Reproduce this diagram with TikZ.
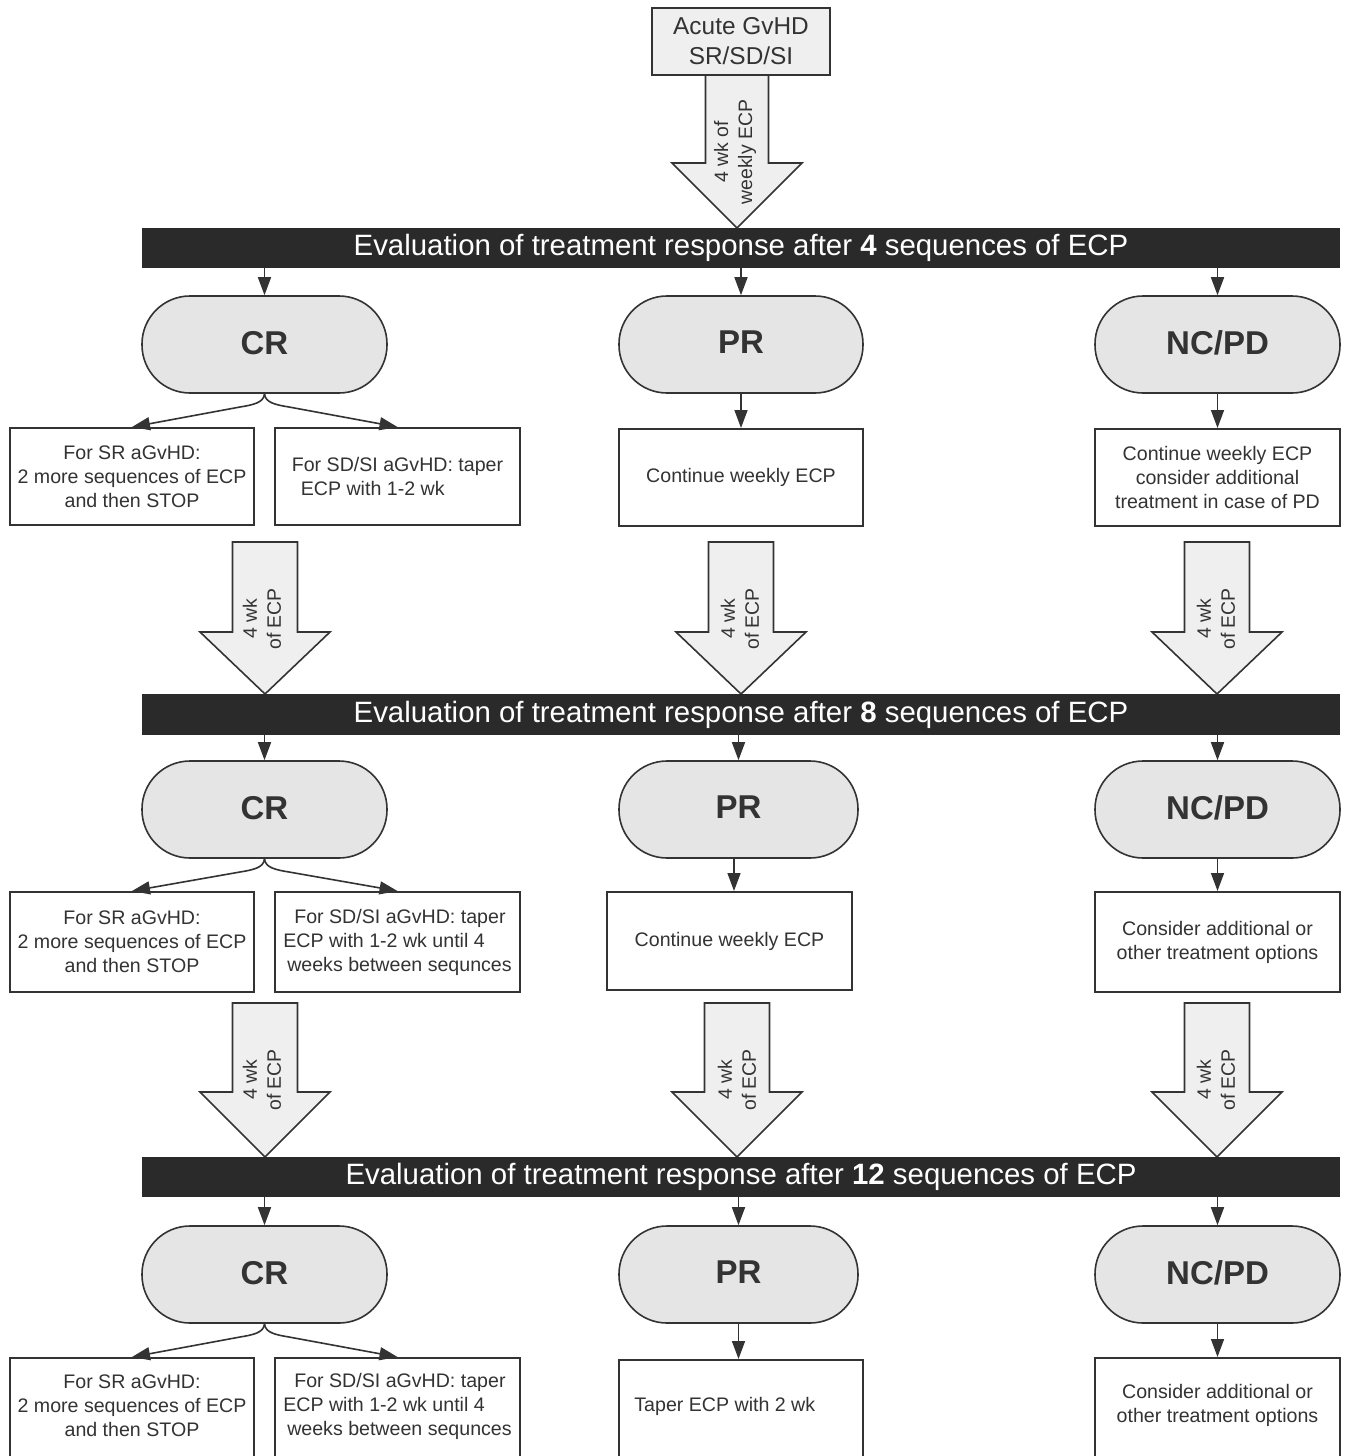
\documentclass[tikz,border=0pt]{standalone}
\usepackage{fontspec}
\setmainfont{Liberation Sans}
\usetikzlibrary{arrows.meta}
\definecolor{ink}{HTML}{333333}
\definecolor{barfill}{HTML}{2A2A2A}
\definecolor{pillfill}{HTML}{E5E5E5}
\definecolor{arrfill}{HTML}{EFEFEF}
\newcommand{\blkarrow}[5]{% x, top, neck, tip, half shaft
  \draw[blk] (#1-#5,#2) -- (#1+#5,#2) -- (#1+#5,#3) -- (#1+65,#3) -- (#1,#4) -- (#1-65,#3) -- (#1-#5,#3) -- cycle;}
\newcommand{\branch}[4]{% cr, left box, right box, y of cr bottom
  \draw[sarrow] (#1.south) .. controls (264,#4+10) and (252,#4+12) .. (240,#4+14) -- (#2.north);
  \draw[sarrow] (#1.south) .. controls (265,#4+10) and (277,#4+12) .. (289,#4+14) -- (#3.north);}
\newcommand{\pilltext}[1]{\raisebox{2pt}{#1}}
\begin{document}
\begin{tikzpicture}[x=0.5pt,y=-0.5pt,
  box/.style={draw=ink, line width=1pt, fill=white, minimum width=122pt, minimum height=48.5pt, inner sep=0pt, text=ink, font=\fontsize{9.8}{12}\selectfont, align=center},
  txt/.style={inner sep=0pt, text=ink, font=\fontsize{9.8}{12}\selectfont, align=center},
  pill/.style={draw=ink, line width=0.8pt, fill=pillfill, rounded corners=24pt, minimum width=122.5pt, minimum height=48.5pt, inner sep=0pt, text=ink, font=\fontsize{16.5}{19}\selectfont\bfseries},
  bar/.style={fill=barfill, minimum width=599pt, minimum height=20pt, inner sep=0pt, text=white, font=\fontsize{14.7}{17}\selectfont},
  sarrow/.style={draw=ink, line width=0.8pt, -{Triangle[length=9pt,width=6.5pt]}},
  blk/.style={draw=ink, line width=0.8pt, fill=arrfill, line join=miter},
  atext/.style={rotate=90, align=center, text=ink, font=\fontsize{9.7}{12}\selectfont, inner sep=0pt}
]
\useasboundingbox (0,0) rectangle (1344,1456);
\clip (0,0) rectangle (1344,1456);

% top
\node[box, minimum width=89pt, minimum height=33.5pt, fill=arrfill, font=\fontsize{12.2}{15}\selectfont] (top) at (741,41.5) {Acute GvHD\\SR/SD/SI};

% block arrows
\blkarrow{737}{75}{163}{228}{31.5}
\node[atext] (t0) at (735,152) {4 wk of\\weekly ECP};
\blkarrow{265}{542}{632}{694}{32.5}
\blkarrow{741}{542}{632}{694}{32.5}
\blkarrow{1217}{542}{632}{694}{32.5}
\node[atext] (t1a) at (262,619) {4 wk\\of ECP};
\node[atext] (t1b) at (740,619) {4 wk\\of ECP};
\node[atext] (t1c) at (1216,619) {4 wk\\of ECP};
\blkarrow{265}{1003}{1092}{1157}{32.5}
\blkarrow{737}{1003}{1092}{1157}{32.5}
\blkarrow{1217}{1003}{1092}{1157}{32.5}
\node[atext] (t2a) at (262,1080) {4 wk\\of ECP};
\node[atext] (t2b) at (737,1080) {4 wk\\of ECP};
\node[atext] (t2c) at (1216,1080) {4 wk\\of ECP};

% bars
\node[bar] (bar1) at (741,248) {Evaluation of treatment response after \textbf{4} sequences of ECP};
\node[bar, minimum height=20.5pt] (bar2) at (741,714.5) {Evaluation of treatment response after \textbf{8} sequences of ECP};
\node[bar] (bar3) at (741,1177) {Evaluation of treatment response after \textbf{12} sequences of ECP};

% pills
\node[pill] (cr1) at (264.5,344.5) {\pilltext{CR}};
\node[pill, minimum width=122pt] (pr1) at (741,344.5) {\pilltext{PR}};
\node[pill] (nc1) at (1217.5,344.5) {\pilltext{NC/PD}};
\node[pill] (cr2) at (264.5,809.5) {\pilltext{CR}};
\node[pill, minimum width=119.5pt] (pr2) at (738.5,809.5) {\pilltext{PR}};
\node[pill] (nc2) at (1217.5,809.5) {\pilltext{NC/PD}};
\node[pill] (cr3) at (264.5,1274.5) {\pilltext{CR}};
\node[pill, minimum width=119.5pt] (pr3) at (738.5,1274.5) {\pilltext{PR}};
\node[pill] (nc3) at (1217.5,1274.5) {\pilltext{NC/PD}};

% boxes row 1
\node[box] (a1) at (132,476.5) {For SR aGvHD:\\2 more sequences of ECP\\and then STOP};
\node[box, minimum width=122.5pt, align=left] (b1) at (397.5,476.5) {For SD/SI aGvHD: taper\\\hspace*{4.5pt}ECP with 1-2 wk};
\node[box] (c1) at (741,477.5) {Continue weekly ECP};
\node[box, minimum width=122.5pt] (d1) at (1217.5,477.5) {Continue weekly ECP\\consider additional\\treatment in case of PD};
% boxes row 2
\node[box, minimum height=50pt] (a2) at (132,942) {For SR aGvHD:\\2 more sequences of ECP\\and then STOP};
\node[box, minimum width=122.5pt, minimum height=50pt, align=left] (b2) at (397.5,942) {\hspace*{5.5pt}For SD/SI aGvHD: taper\\ECP with 1-2 wk until 4\\\hspace*{2pt}weeks between sequnces};
\node[box, minimum width=122.5pt, minimum height=49pt] (c2) at (729.5,941) {Continue weekly ECP};
\node[box, minimum width=122.5pt, minimum height=50pt] (d2) at (1217.5,942) {Consider additional or\\other treatment options};
% boxes row 3 (cut by the lower edge)
\node[box, minimum height=52pt] (a3) at (132,1410) {};
\node[txt] (a3t) at (132,1406) {For SR aGvHD:\\2 more sequences of ECP\\and then STOP};
\node[box, minimum width=122.5pt, minimum height=52pt] (b3) at (397.5,1410) {};
\node[txt, align=left] (b3t) at (397.5,1406) {\hspace*{5.5pt}For SD/SI aGvHD: taper\\ECP with 1-2 wk until 4\\\hspace*{2pt}weeks between sequnces};
\node[box, minimum height=51pt] (c3) at (741,1411) {};
\node[txt, anchor=west] (c3t) at (634,1406) {Taper ECP with 2 wk};
\node[box, minimum width=122.5pt, minimum height=52pt] (d3) at (1217.5,1410) {};
\node[txt] (d3t) at (1217.5,1405) {Consider additional or\\other treatment options};

% bar -> pill arrows
\foreach \b/\p in {bar1/cr1,bar1/pr1,bar1/nc1,bar2/cr2,bar2/pr2,bar2/nc2,bar3/cr3,bar3/pr3,bar3/nc3}
  \draw[sarrow] (\b.south -| \p.north) -- (\p.north);

% pill -> box arrows
\draw[sarrow] (pr1.south) -- (c1.north);
\draw[sarrow] (nc1.south) -- (d1.north);
\draw[sarrow] ([xshift=-2.25pt]pr2.south) -- ([xshift=-2.25pt]pr2.south |- c2.north);
\draw[sarrow] (nc2.south) -- (nc2.south |- d2.north);
\draw[sarrow] (pr3.south) -- (pr3.south |- c3.north);
\draw[sarrow] (nc3.south) -- (nc3.south |- d3.north);

% CR branches
\branch{cr1}{a1}{b1}{393}
\branch{cr2}{a2}{b2}{858}
\branch{cr3}{a3}{b3}{1323}
\end{tikzpicture}
\end{document}
